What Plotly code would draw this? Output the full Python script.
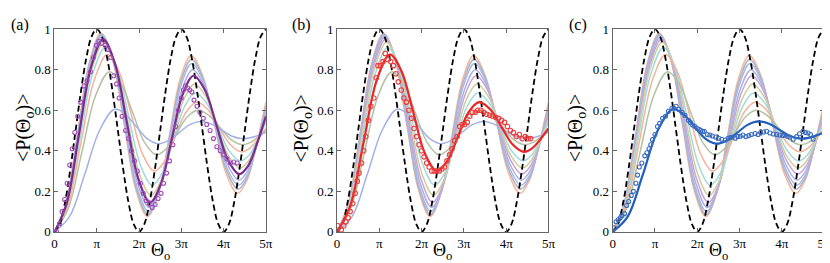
import plotly.graph_objects as go

# ---------------- data (theta in units of pi) ----------------
family_colors = ['#f6b79a', '#a9b3c9', '#a6bbe3', '#b3aee0', '#c9a6d8',
                 '#cfcf9c', '#a2dadf', '#f4b39b', '#b1c2a0', '#a5b1e4']

family_theta = [
    [0, 0.275, 0.55, 0.825, 1.10, 1.375, 1.65, 1.925, 2.20, 2.4575, 2.715, 2.9725, 3.23, 3.505, 3.78, 4.055, 4.33, 4.553, 4.777, 5.0],
    [0, 0.2775, 0.555, 0.8325, 1.11, 1.385, 1.66, 1.935, 2.21, 2.4675, 2.725, 2.9825, 3.24, 3.515, 3.79, 4.065, 4.34, 4.56, 4.78, 5.0],
    [0, 0.28, 0.56, 0.84, 1.12, 1.395, 1.67, 1.945, 2.22, 2.4775, 2.735, 2.9925, 3.25, 3.525, 3.80, 4.075, 4.35, 4.567, 4.783, 5.0],
    [0, 0.2825, 0.565, 0.8475, 1.13, 1.4075, 1.685, 1.9625, 2.24, 2.4975, 2.755, 3.0125, 3.27, 3.5425, 3.815, 4.0875, 4.36, 4.573, 4.787, 5.0],
    [0, 0.2875, 0.575, 0.8625, 1.15, 1.4275, 1.705, 1.9825, 2.26, 2.5175, 2.775, 3.0325, 3.29, 3.56, 3.83, 4.10, 4.37, 4.58, 4.79, 5.0],
    [0, 0.2925, 0.585, 0.8775, 1.17, 1.4475, 1.725, 2.0025, 2.28, 2.5375, 2.795, 3.0525, 3.31, 3.5775, 3.845, 4.1125, 4.38, 4.587, 4.793, 5.0],
    [0, 0.30, 0.60, 0.90, 1.20, 1.4775, 1.755, 2.0325, 2.31, 2.565, 2.82, 3.075, 3.33, 3.5975, 3.865, 4.1325, 4.40, 4.60, 4.80, 5.0],
    [0, 0.3125, 0.625, 0.9375, 1.25, 1.5275, 1.805, 2.0825, 2.36, 2.61, 2.86, 3.11, 3.36, 3.625, 3.89, 4.155, 4.42, 4.613, 4.807, 5.0],
    [0, 0.325, 0.65, 0.975, 1.30, 1.5775, 1.855, 2.1325, 2.41, 2.655, 2.90, 3.145, 3.39, 3.6525, 3.915, 4.1775, 4.44, 4.627, 4.813, 5.0],
    [0, 0.355, 0.71, 1.065, 1.42, 1.6775, 1.935, 2.1925, 2.45, 2.70, 2.95, 3.20, 3.45, 3.70, 3.95, 4.20, 4.45, 4.633, 4.817, 5.0],
]
family_p = [
    [0, 0.143, 0.49, 0.837, 0.98, 0.848, 0.528, 0.208, 0.075, 0.191, 0.473, 0.754, 0.87, 0.770, 0.53, 0.29, 0.19, 0.255, 0.43, 0.64],
    [0, 0.143, 0.488, 0.832, 0.975, 0.845, 0.53, 0.215, 0.085, 0.197, 0.468, 0.738, 0.85, 0.756, 0.53, 0.304, 0.21, 0.269, 0.428, 0.62],
    [0, 0.142, 0.485, 0.828, 0.97, 0.843, 0.535, 0.227, 0.10, 0.207, 0.465, 0.723, 0.83, 0.742, 0.53, 0.318, 0.23, 0.284, 0.426, 0.60],
    [0, 0.141, 0.48, 0.820, 0.96, 0.837, 0.54, 0.243, 0.12, 0.220, 0.46, 0.700, 0.80, 0.720, 0.528, 0.335, 0.255, 0.303, 0.43, 0.585],
    [0, 0.139, 0.475, 0.811, 0.95, 0.832, 0.548, 0.263, 0.145, 0.237, 0.458, 0.679, 0.77, 0.699, 0.528, 0.356, 0.285, 0.326, 0.436, 0.57],
    [0, 0.137, 0.468, 0.798, 0.935, 0.825, 0.558, 0.291, 0.18, 0.261, 0.455, 0.650, 0.73, 0.669, 0.523, 0.376, 0.315, 0.35, 0.442, 0.555],
    [0, 0.133, 0.455, 0.777, 0.91, 0.810, 0.57, 0.330, 0.23, 0.297, 0.458, 0.618, 0.685, 0.636, 0.518, 0.399, 0.35, 0.378, 0.45, 0.54],
    [0, 0.128, 0.438, 0.747, 0.875, 0.791, 0.588, 0.384, 0.30, 0.350, 0.47, 0.590, 0.64, 0.604, 0.518, 0.431, 0.395, 0.412, 0.456, 0.51],
    [0, 0.116, 0.395, 0.674, 0.79, 0.73, 0.585, 0.44, 0.38, 0.412, 0.49, 0.568, 0.60, 0.575, 0.515, 0.455, 0.43, 0.44, 0.467, 0.50],
    [0, 0.075, 0.28, 0.50, 0.605, 0.580, 0.52, 0.460, 0.435, 0.451, 0.49, 0.529, 0.545, 0.533, 0.503, 0.472, 0.46, 0.464, 0.476, 0.49],
]

dashed_theta = [i / 8 for i in range(41)]
dashed_p = [0, 0.038, 0.146, 0.309, 0.5, 0.691, 0.854, 0.962, 1.0, 0.962, 0.854, 0.691, 0.5, 0.309, 0.146, 0.038,
            0, 0.038, 0.146, 0.309, 0.5, 0.691, 0.854, 0.962, 1.0, 0.962, 0.854, 0.691, 0.5, 0.309, 0.146, 0.038,
            0, 0.038, 0.146, 0.309, 0.5, 0.691, 0.854, 0.962, 1.0]

fit_index = [4, 7, 9]          # family member drawn as the fit in panels a, b, c
fit_colors = ['#7b2c8e', '#ee2424', '#2160bf']
marker_colors = ['#a04db5', '#ee3b3b', '#3a6cc0']

data_a_theta = [0.00, 0.05, 0.12, 0.18, 0.24, 0.30, 0.36, 0.42, 0.48, 0.55, 0.62, 0.70, 0.77, 0.85, 0.92, 0.99,
                1.05, 1.12, 1.20, 1.27, 1.33, 1.40, 1.47, 1.53, 1.60, 1.68, 1.75, 1.82, 1.89, 1.96, 2.03, 2.10,
                2.17, 2.24, 2.31, 2.38, 2.45, 2.52, 2.58, 2.65, 2.72, 2.80, 2.87, 2.93, 3.00, 3.05, 3.10, 3.15,
                3.20, 3.25, 3.30, 3.37, 3.44, 3.52, 3.60, 3.68, 3.76, 3.84, 3.92, 4.00, 4.08, 4.16, 4.24, 4.32]
data_a_p = [0.00, 0.00, 0.04, 0.10, 0.16, 0.24, 0.33, 0.41, 0.49, 0.57, 0.64, 0.72, 0.745, 0.79, 0.86, 0.92,
            0.94, 0.93, 0.92, 0.90, 0.86, 0.77, 0.73, 0.66, 0.57, 0.50, 0.46, 0.40, 0.35, 0.30, 0.24, 0.19,
            0.155, 0.14, 0.12, 0.135, 0.165, 0.19, 0.24, 0.29, 0.35, 0.43, 0.52, 0.60, 0.66, 0.70, 0.72, 0.71,
            0.70, 0.69, 0.65, 0.62, 0.59, 0.56, 0.53, 0.50, 0.46, 0.42, 0.40, 0.38, 0.36, 0.34, 0.345, 0.34]

data_b_theta = [0.02, 0.10, 0.16, 0.21, 0.26, 0.31, 0.37, 0.43, 0.48, 0.52, 0.58, 0.63, 0.68, 0.74, 0.80, 0.87,
                0.93, 0.97, 1.03, 1.09, 1.14, 1.20, 1.27, 1.33, 1.39, 1.45, 1.52, 1.58, 1.64, 1.70, 1.76, 1.82,
                1.88, 1.94, 2.00, 2.06, 2.12, 2.18, 2.24, 2.30, 2.36, 2.42, 2.48, 2.54, 2.60, 2.66, 2.72, 2.78,
                2.84, 2.90, 2.96, 3.02, 3.08, 3.14, 3.20, 3.27, 3.33, 3.40, 3.47, 3.54, 3.61, 3.68, 3.75, 3.82,
                3.89, 3.96, 4.03, 4.10, 4.17, 4.24, 4.31, 4.38, 4.45, 4.52, 4.58]
data_b_p = [0.03, 0.01, 0.03, 0.05, 0.07, 0.10, 0.14, 0.19, 0.25, 0.29, 0.34, 0.40, 0.47, 0.55, 0.62, 0.66,
            0.76, 0.82, 0.82, 0.84, 0.88, 0.85, 0.84, 0.82, 0.78, 0.74, 0.70, 0.66, 0.64, 0.60, 0.56, 0.51,
            0.47, 0.43, 0.40, 0.37, 0.34, 0.32, 0.30, 0.30, 0.30, 0.30, 0.31, 0.32, 0.35, 0.38, 0.41, 0.45,
            0.47, 0.52, 0.53, 0.53, 0.54, 0.57, 0.59, 0.59, 0.60, 0.60, 0.59, 0.58, 0.575, 0.57, 0.565, 0.56,
            0.55, 0.54, 0.52, 0.50, 0.49, 0.47, 0.48, 0.46, 0.47, 0.46, 0.46]

data_c_theta = [0.00, 0.04, 0.08, 0.13, 0.18, 0.22, 0.28, 0.33, 0.38, 0.44, 0.49, 0.55, 0.59, 0.63, 0.69, 0.76,
                0.81, 0.86, 0.90, 0.94, 1.00, 1.06, 1.11, 1.18, 1.25, 1.32, 1.40, 1.45, 1.50, 1.56, 1.64, 1.71,
                1.79, 1.84, 1.89, 1.95, 2.00, 2.05, 2.09, 2.13, 2.17, 2.24, 2.30, 2.36, 2.44, 2.51, 2.58, 2.66,
                2.73, 2.78, 2.83, 2.90, 2.96, 3.02, 3.08, 3.15, 3.22, 3.28, 3.37, 3.44, 3.50, 3.57, 3.64, 3.72,
                3.80, 3.88, 3.95, 4.02, 4.07, 4.13, 4.19, 4.27, 4.35, 4.42, 4.50, 4.56, 4.62, 4.68, 4.74]
data_c_p = [0.00, 0.02, 0.05, 0.06, 0.07, 0.08, 0.09, 0.13, 0.15, 0.18, 0.20, 0.24, 0.28, 0.32, 0.34, 0.375,
            0.39, 0.41, 0.43, 0.455, 0.48, 0.52, 0.535, 0.56, 0.57, 0.595, 0.61, 0.61, 0.62, 0.605, 0.59, 0.575,
            0.55, 0.54, 0.527, 0.52, 0.51, 0.505, 0.50, 0.496, 0.495, 0.48, 0.478, 0.473, 0.468, 0.462, 0.457, 0.453,
            0.462, 0.465, 0.468, 0.462, 0.47, 0.472, 0.478, 0.47, 0.475, 0.48, 0.485, 0.48, 0.49, 0.493, 0.496, 0.488,
            0.483, 0.48, 0.478, 0.475, 0.478, 0.472, 0.468, 0.457, 0.47, 0.484, 0.496, 0.49, 0.488, 0.48, 0.457]

data_theta = [data_a_theta, data_b_theta, data_c_theta]
data_p = [data_a_p, data_b_p, data_c_p]
marker_sizes = [4, 4.5, 4]

x_tickvals = [0, 1, 2, 3, 4, 5]
x_ticktext = ['0', 'π', '2π', '3π', '4π', '5π']
y_tickvals = [0, 0.2, 0.4, 0.6, 0.8, 1]
y_ticktext = ['0', '0.2', '0.4', '0.6', '0.8', '1']
panel_labels = ['(a)', '(b)', '(c)']

# ---------------- figure ----------------
W, H = 830, 263
x_domains = [(44, 258), (330, 544), (609, 823)]
y_dom = [1 - 230 / H, 1 - 15 / H]
ytitle_x = [13, 295, 572]
label_x = [9, 294, 574]
FONT = 'Liberation Serif'

fig = go.Figure()
for k in range(3):
    xa = 'x' if k == 0 else f'x{k+1}'
    ya = 'y' if k == 0 else f'y{k+1}'
    for i in range(len(family_theta)):
        fig.add_trace(go.Scatter(x=family_theta[i], y=family_p[i], mode='lines',
                                 line=dict(color=family_colors[i], width=1.5, shape='spline'),
                                 xaxis=xa, yaxis=ya, showlegend=False, hoverinfo='skip'))
    fig.add_trace(go.Scatter(x=dashed_theta, y=dashed_p, mode='lines',
                             line=dict(color='black', width=1.8, dash='6px,3.5px', shape='spline'),
                             xaxis=xa, yaxis=ya, showlegend=False))
    fi = fit_index[k]
    fig.add_trace(go.Scatter(x=family_theta[fi], y=family_p[fi], mode='lines',
                             line=dict(color=fit_colors[k], width=2.2, shape='spline'),
                             xaxis=xa, yaxis=ya, showlegend=False))
    fig.add_trace(go.Scatter(x=data_theta[k], y=data_p[k], mode='markers',
                             marker=dict(symbol='circle-open', size=marker_sizes[k],
                                         color=marker_colors[k], line=dict(width=1.1, color=marker_colors[k])),
                             xaxis=xa, yaxis=ya, showlegend=False))

    axis_common = dict(showline=True, linecolor='#666666', linewidth=1, mirror='ticks',
                       ticks='inside', ticklen=4, tickcolor='#666666', showgrid=False,
                       zeroline=False, tickfont=dict(family=FONT, size=13, color='black'))
    fig.layout[('xaxis' if k == 0 else f'xaxis{k+1}')] = dict(
        domain=[x_domains[k][0] / W, x_domains[k][1] / W], range=[0, 5], anchor=ya,
        tickvals=x_tickvals, ticktext=x_ticktext, **axis_common)
    fig.layout[('yaxis' if k == 0 else f'yaxis{k+1}')] = dict(
        domain=y_dom, range=[0, 1], anchor=xa,
        tickvals=y_tickvals, ticktext=y_ticktext, **axis_common)

    fig.add_annotation(text='&lt;P(Θ<sub>o</sub>)&gt;', xref='paper', yref='paper',
                       x=ytitle_x[k] / W, y=1 - 120 / H, textangle=-90, showarrow=False,
                       xanchor='center', yanchor='middle',
                       font=dict(family=FONT, size=20, color='black'))
    fig.add_annotation(text='Θ<sub>o</sub>', xref='paper', yref='paper',
                       x=(x_domains[k][0] + x_domains[k][1]) / 2 / W, y=1 - 251 / H,
                       showarrow=False, xanchor='center', yanchor='middle',
                       font=dict(family=FONT, size=18, color='black'))
    fig.add_annotation(text=panel_labels[k], xref='paper', yref='paper',
                       x=label_x[k] / W, y=1 - 11 / H, showarrow=False,
                       xanchor='center', yanchor='middle',
                       font=dict(family=FONT, size=16, color='black'))

fig.update_layout(width=W, height=H, margin=dict(l=0, r=0, t=0, b=0),
                  font=dict(family=FONT),
                  paper_bgcolor='white', plot_bgcolor='white')
fig.write_html('out.html')
